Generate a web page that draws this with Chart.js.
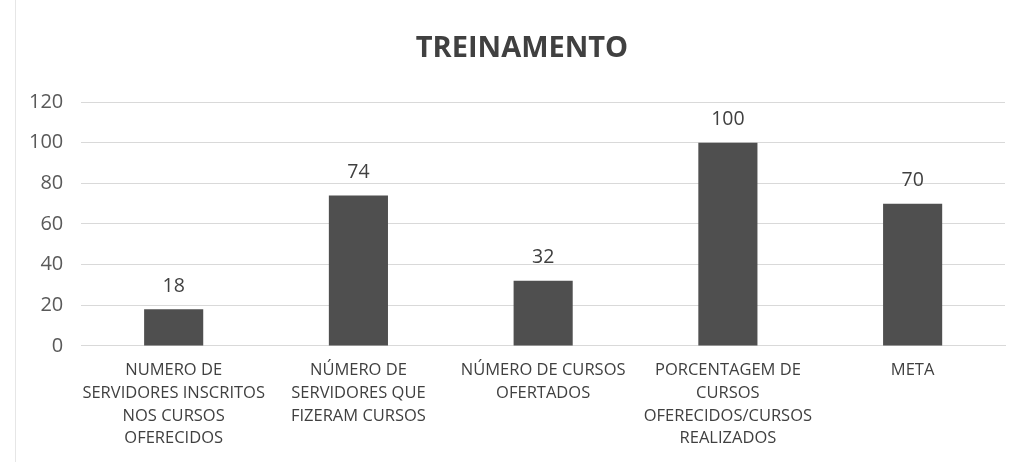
<!DOCTYPE html>
<html>
<head>
<meta charset="utf-8">
<script src="https://cdn.jsdelivr.net/npm/chart.js@4/dist/chart.umd.min.js"></script>
<style>
  html, body { margin: 0; padding: 0; background: #fff; }
  #wrap { width: 1022px; height: 462px; position: relative; }
  #frame { position: absolute; left: 15px; top: 0; width: 1px; height: 462px; background: #e6e6e6; }
</style>
</head>
<body>
<div id="wrap">
  <div id="frame"></div>
  <canvas id="myChart" width="1022" height="462"></canvas>
</div>
<script>
// categorias e valores
var categorias = [
  ['NUMERO DE', 'SERVIDORES INSCRITOS', 'NOS CURSOS', 'OFERECIDOS'],
  ['NÚMERO DE', 'SERVIDORES QUE', 'FIZERAM CURSOS'],
  ['NÚMERO DE CURSOS', 'OFERTADOS'],
  ['PORCENTAGEM DE', 'CURSOS', 'OFERECIDOS/CURSOS', 'REALIZADOS'],
  ['META']
];
var valores = [18, 74, 32, 100, 70];
var titulo = 'TREINAMENTO';

var fonte = "'Open Sans', 'Liberation Sans', sans-serif";

// rótulos de valor acima das barras + título
var rotulos = {
  id: 'rotulos',
  afterDatasetsDraw: function (chart) {
    var ctx = chart.ctx;
    var meta = chart.getDatasetMeta(0);
    ctx.save();
    ctx.font = '19.5px ' + fonte;
    ctx.fillStyle = '#404040';
    ctx.textAlign = 'center';
    ctx.textBaseline = 'middle';
    meta.data.forEach(function (bar, i) {
      ctx.fillText(valores[i], bar.x, bar.y - 23);
    });
    // título centrado como no original
    ctx.font = 'bold 29px ' + fonte;
    ctx.fillText(titulo, chart.width / 2 + 11, 49);
    ctx.restore();
  }
};

var ctx = document.getElementById('myChart');
var myChart = new Chart(ctx, {
  type: 'bar',
  data: {
    labels: categorias,
    datasets: [{
      data: valores,
      backgroundColor: '#4f4f4f',
      categoryPercentage: 1,
      barPercentage: 0.32
    }]
  },
  options: {
    responsive: false,
    animation: false,
    layout: { padding: { left: 11, right: 17, top: 102, bottom: 7 } },
    plugins: {
      legend: { display: false },
      tooltip: { enabled: false },
      title: { display: false }
    },
    scales: {
      y: {
        min: 0,
        max: 120,
        ticks: { stepSize: 20, padding: 18, color: '#595959', font: { family: fonte, size: 20 } },
        grid: { color: '#d9d9d9', drawTicks: false },
        border: { display: false }
      },
      x: {
        ticks: { padding: 5, color: '#404040', font: { family: fonte, size: 16.5, lineHeight: 1.38 }, maxRotation: 0, autoSkip: false },
        grid: { display: false },
        border: { color: '#d9d9d9' },
        afterFit: function (scale) {
          scale.paddingLeft = 0;
          scale.paddingRight = 0;
        }
      }
    }
  },
  plugins: [rotulos]
});
</script>
</body>
</html>
